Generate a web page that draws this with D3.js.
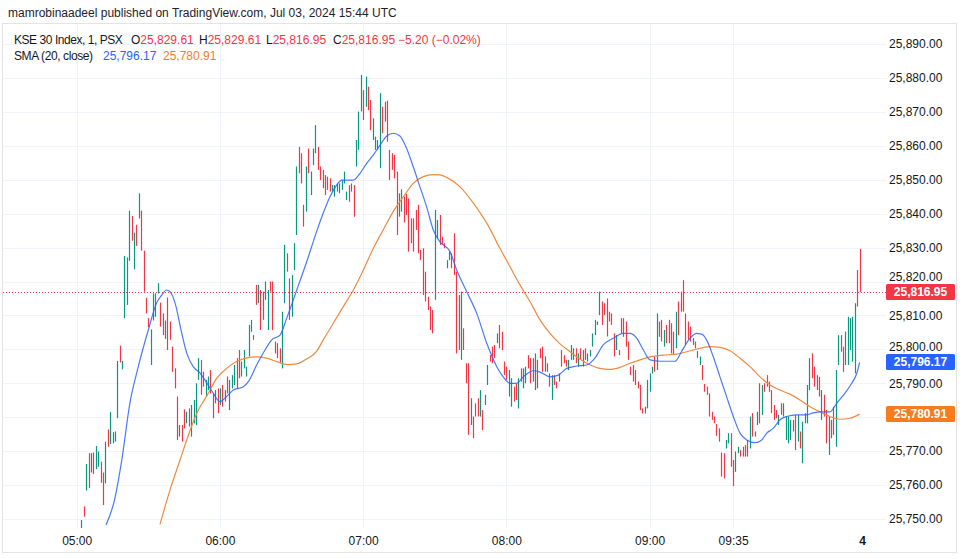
<!DOCTYPE html>
<html><head><meta charset="utf-8">
<script src="https://cdn.jsdelivr.net/npm/d3@7/dist/d3.min.js"></script>
<style>
html,body{margin:0;padding:0;background:#fff;}
svg{display:block;}
text{font-family:"Liberation Sans","Noto Sans",Arial,sans-serif;}
</style></head><body>
<div id="chart"></div>
<script>
// ---------- DATA ----------
const title = "mamrobinaadeel published on TradingView.com, Jul 03, 2024 15:44 UTC";
const symbolLabel = "KSE 30 Index, 1, PSX";
const smaLabel = "SMA (20, close)";
// 1-minute bars; bar index = minutes after 05:00 UTC, first visible bar at index 2
const firstBar = 2;
const highs = [25749.7,25753.7,25766.2,25769.4,25769.4,25769.6,25771.5,25769.9,25766.9,25763.7,
25772.8,25776.4,25781.5,25775.6,25775.8,25796.6,25801.1,25796.6,25827.5,25827.1,
25840.9,25839.3,25834.4,25836.7,25846.0,25840.9,25829.1,25815.2,25809.2,25805.9,
25816.5,25816.5,25819.5,25813.8,25810.6,25808.5,25815.3,25808.2,25800.8,25794.4,
25786.1,25777.7,25777.7,25782.3,25781.6,25782.6,25783.6,25785.1,25790.0,25797.4,
25796.9,25793.4,25791.0,25792.0,25793.9,25787.0,25788.0,25788.5,25788.5,25789.5,
25788.0,25792.0,25791.0,25792.4,25795.4,25797.4,25799.8,25796.4,25799.8,25794.9,
25807.2,25808.7,25804.2,25819.0,25819.0,25817.5,25817.0,25820.0,25817.5,25820.0,
25820.0,25802.3,25801.8,25800.3,25811.1,25830.8,25828.3,25820.9,25821.9,25831.3,
25853.9,25859.7,25857.8,25842.6,25853.9,25859.2,25852.4,25859.2,25866.1,25859.7,
25853.9,25852.9,25851.4,25850.9,25850.4,25848.4,25848.4,25848.9,25848.9,25849.9,
25852.4,25846.5,25848.4,25848.9,25848.4,25861.7,25870.1,25880.9,25876.4,25880.4,
25877.4,25873.5,25868.1,25862.7,25861.7,25875.5,25871.5,25873.0,25873.3,25858.8,
25857.8,25857.3,25852.4,25846.0,25847.2,25845.0,25845.8,25844.5,25838.6,25838.6,
25841.1,25842.6,25829.3,25829.8,25822.9,25815.5,25812.6,25811.6,25841.1,25838.1,
25839.6,25833.2,25831.3,25826.3,25828.8,25828.3,25834.2,25822.9,25816.0,25817.0,
25806.2,25795.9,25795.9,25785.6,25780.2,25784.1,25785.6,25788.0,25782.1,25786.6,
25795.4,25798.3,25800.8,25801.3,25804.7,25807.2,25805.2,25796.4,25794.9,25793.9,
25791.5,25789.0,25790.0,25791.5,25794.4,25794.4,25794.9,25798.3,25797.4,25797.4,
25798.8,25796.9,25800.3,25800.8,25797.9,25795.9,25792.9,25792.4,25792.4,25790.5,
25792.9,25799.8,25798.3,25796.9,25796.9,25801.3,25800.3,25800.3,25798.8,25800.3,
25799.8,25800.3,25798.8,25799.8,25804.7,25808.7,25808.2,25817.0,25814.1,25813.6,
25815.0,25811.1,25810.6,25804.7,25804.2,25799.8,25809.2,25809.2,25808.2,25802.3,
25794.9,25795.4,25793.9,25790.5,25789.5,25782.6,25783.1,25791.0,25792.9,25794.9,
25797.9,25810.6,25808.2,25808.7,25805.7,25807.2,25808.7,25807.7,25805.2,25811.1,
25814.1,25817.0,25820.4,25810.6,25808.2,25806.7,25803.3,25802.3,25799.5,25797.9,
25795.4,25789.8,25789.0,25787.0,25781.6,25780.2,25778.0,25776.7,25769.6,25769.4,
25773.3,25775.3,25775.3,25767.4,25769.9,25771.3,25770.3,25771.3,25771.8,25773.3,
25780.2,25781.2,25775.8,25781.6,25790.0,25789.5,25790.0,25792.4,25790.5,25788.0,
25783.6,25782.1,25780.7,25784.1,25784.1,25780.2,25780.2,25779.2,25779.2,25780.7,
25780.7,25775.8,25778.7,25781.2,25789.5,25797.4,25798.8,25794.9,25792.4,25791.9,
25788.0,25786.6,25782.1,25780.2,25779.2,25783.1,25793.9,25804.2,25804.2,25800.8,
25805.2,25809.6,25809.2,25809.6,25813.6,25823.4,25829.61];
const lows = [25747.0,25750.7,25758.4,25759.1,25763.7,25763.3,25764.7,25765.4,25760.7,25754.1,
25760.5,25771.3,25772.1,25772.3,25772.8,25779.7,25796.1,25794.1,25809.2,25813.1,
25826.1,25832.0,25823.6,25830.5,25838.6,25829.1,25817.0,25810.6,25806.5,25795.4,
25808.5,25809.6,25816.5,25806.7,25804.2,25803.1,25799.8,25802.8,25793.4,25788.5,
25773.3,25774.3,25772.8,25776.7,25778.2,25777.2,25774.3,25778.2,25777.7,25791.0,
25786.6,25789.0,25786.1,25788.0,25787.0,25779.7,25784.1,25781.2,25783.6,25783.1,
25784.6,25787.0,25782.1,25788.5,25789.5,25788.5,25791.5,25792.0,25794.4,25792.0,
25797.9,25805.2,25802.8,25813.1,25813.6,25805.7,25808.7,25814.6,25805.7,25817.0,
25805.7,25798.8,25797.4,25795.9,25794.4,25813.6,25822.9,25808.7,25809.6,25823.4,
25833.7,25851.9,25848.9,25836.2,25840.6,25851.9,25845.5,25854.3,25857.8,25852.9,
25849.9,25847.5,25845.5,25847.0,25846.5,25846.5,25845.0,25846.5,25846.0,25847.0,
25848.9,25844.0,25843.5,25846.5,25839.1,25853.9,25858.8,25870.1,25867.6,25871.5,
25870.5,25864.6,25861.7,25858.8,25858.8,25853.4,25863.7,25867.1,25861.2,25849.9,
25852.9,25850.4,25833.7,25839.1,25840.6,25837.4,25839.6,25828.8,25831.3,25828.8,
25835.2,25828.3,25826.3,25816.0,25814.1,25811.6,25805.7,25804.7,25814.6,25832.7,
25830.8,25830.8,25829.8,25823.9,25826.3,25823.9,25821.9,25798.8,25799.8,25796.9,
25799.8,25790.0,25774.8,25777.7,25773.8,25780.2,25780.2,25780.2,25776.2,25783.6,
25789.5,25796.4,25795.9,25797.4,25801.8,25800.3,25799.8,25792.4,25791.0,25786.1,
25783.1,25784.6,25785.1,25782.6,25790.5,25788.5,25790.0,25794.4,25790.0,25790.5,
25788.0,25788.5,25797.4,25793.4,25793.4,25793.4,25789.0,25785.1,25789.5,25788.5,
25790.5,25794.9,25795.9,25794.9,25793.9,25796.9,25796.9,25795.9,25794.9,25796.9,
25794.9,25796.9,25796.4,25797.9,25800.8,25804.2,25807.2,25810.1,25807.2,25810.1,
25803.8,25808.2,25807.2,25797.9,25799.8,25798.3,25804.7,25803.7,25800.8,25796.9,
25792.4,25790.5,25789.5,25788.5,25782.1,25781.1,25781.1,25782.6,25787.5,25792.9,
25793.4,25793.9,25803.7,25802.3,25800.8,25801.8,25801.8,25798.8,25798.3,25800.3,
25804.2,25811.1,25811.1,25801.3,25802.8,25802.3,25801.3,25800.3,25797.5,25795.4,
25791.0,25787.5,25786.6,25780.2,25779.2,25778.2,25774.5,25772.8,25762.5,25762.0,
25770.8,25772.3,25765.4,25759.7,25763.9,25769.4,25768.4,25768.4,25768.4,25768.4,
25770.8,25774.3,25774.3,25777.7,25778.2,25780.7,25787.5,25789.0,25787.5,25781.2,
25779.2,25779.7,25777.7,25780.7,25780.2,25773.3,25772.3,25773.3,25775.8,25770.3,
25772.8,25770.8,25766.4,25778.2,25778.2,25788.0,25791.5,25789.0,25788.0,25786.1,
25779.2,25780.2,25772.3,25768.9,25773.8,25774.8,25771.3,25795.4,25799.3,25793.4,
25795.4,25795.4,25799.8,25796.4,25792.9,25812.6,25816.95];
// bar colour: G = close above open, R = close below open
const barColours = "GRGRGRGGRR" + "GRGGGGRGGG" + "GRGRGRRRRG" + "GGGRRGRRRR" + "RGRRGRGGGG" +
  "RRGGRRGRGR" + "RRGGGRRGGG" + "GGRRGRRGGR" + "RRRRGGRRGG" + "GRRRGRGGGR" +
  "RRRRRGGGGG" + "GGRGRGGGRG" + "RRGGGGRRRR" + "RRRGGRRRRR" + "RRRRRRRRGG" +
  "RRRGGRRRRG" + "RRRGRRRGRG" + "GRRRGRRRRG" + "GRRGRGGRRR" + "GRRRGRRGRR" +
  "GRRRGGGRGR" + "RRGGGGGGRR" + "RRRRGRRRRR" + "RRRRRRGGGG" + "RGRRGRRRRG" +
  "RRRRRRGRGG" + "RRRRRRRRRR" + "GGRRGGRRRR" + "GRRGRGRRRR" + "RRGRGGGGRR" +
  "GRGGGGRRRR" + "GRRGRRGGRR" + "GGGGGRR";
// last bar values shown in legend
const lastOHLC = [25829.61, 25829.61, 25816.95, 25816.95];
const lastChange = [-5.20, -0.02];
// SMA (20, close) – main line (blue), read at bar positions
const smaBars = [12.3,16.0,18.9,22.3,25.8,30.0,33.5,35.6,37.7,39.1,41.2,44.0,46.1,48.8,51.7,54.5,57.2,60.0,62.8,65.6,69.8,71.9,75.4,78.9,81.7,85.2,88.0,92.2,96.4,100.5,103.3,106.1,108.9,111.0,115.9,118.7,121.5,124.3,127.1,129.9,132.6,135.4,138.2,141.0,143.8,146.6,149.4,152.2,156.4,159.2,163.4,167.6,171.8,176.0,178.7,181.5,184.3,187.1,191.3,194.1,198.3,201.8,205.3,209.5,213.7,217.1,220.6,224.8,229.0,231.8,234.6,237.4,240.2,244.4,250.7,253.5,257.0,259.7,261.8,263.9,266.7,269.5,272.3,275.1,277.9,280.7,284.2,287.0,289.1,291.8,294.6,297.4,301.6,305.8,308.6,312.1,315.6,318.4,321.9,324.7,326.8,328];
const smaValues = [25748.2,25756.1,25767.4,25784.2,25794.9,25805.7,25813.7,25816.0,25817.5,25817.0,25813.7,25804.8,25798.9,25794.9,25793.0,25790.1,25787.1,25784.6,25786.1,25788.0,25789.0,25790.5,25795.4,25799.8,25802.8,25804.2,25809.2,25817.5,25825.9,25834.7,25840.2,25845.0,25848.4,25849.9,25849.9,25851.9,25854.8,25857.3,25860.2,25862.9,25863.7,25862.9,25859.3,25853.8,25847.9,25842.0,25835.2,25831.7,25828.8,25823.4,25817.0,25810.6,25801.8,25794.9,25791.9,25790.0,25790.0,25791.9,25793.7,25793.3,25791.9,25792.4,25794.4,25795.1,25795.4,25797.4,25801.3,25803.3,25804.7,25804.7,25803.3,25799.8,25796.9,25796.5,25796.5,25799.5,25803.3,25804.7,25804.5,25802.8,25797.8,25791.9,25786.0,25780.2,25775.3,25773.3,25772.5,25773.3,25775.3,25776.7,25779.2,25780.2,25780.7,25780.7,25781.3,25781.6,25781.6,25784.1,25787.1,25790.0,25792.9,25796.17];
// smoothing line (orange)
const smoothBars = [34.9,39.1,43.3,46.1,50.3,54.5,58.7,62.8,67.0,71.2,75.4,79.6,83.8,88.0,92.2,96.4,100.5,103.3,107.5,111.7,115.9,120.1,124.3,128.4,132.6,136.8,141.0,145.2,149.4,152.2,155.0,160.6,166.2,171.8,177.3,181.5,185.7,189.9,194.1,198.3,202.5,206.7,210.9,215.1,219.2,223.4,227.6,231.8,236.0,240.2,245.7,251.4,258.3,265.3,269.5,273.7,277.9,282.1,286.3,290.5,294.6,298.8,303.0,307.2,311.4,315.6,319.8,324.0,328];
const smoothValues = [25748.4,25758.6,25767.4,25773.3,25781.2,25786.3,25791.5,25794.4,25796.4,25797.5,25797.8,25797.4,25796.4,25795.5,25795.7,25797.2,25799.4,25802.8,25807.7,25812.6,25817.5,25823.4,25829.8,25835.2,25840.6,25844.9,25848.9,25850.9,25851.5,25851.4,25850.7,25847.9,25843.1,25837.2,25829.8,25824.4,25819.0,25814.1,25808.7,25804.7,25801.6,25799.3,25797.1,25795.4,25794.4,25794.1,25794.7,25795.9,25796.9,25797.8,25798.3,25798.6,25799.8,25800.8,25800.6,25799.6,25797.4,25794.9,25791.9,25789.5,25788.0,25786.8,25785.1,25783.1,25781.6,25780.2,25779.4,25779.7,25780.91];
// axis ticks
const priceTicks = [25750,25760,25770,25780,25790,25800,25810,25820,25830,25840,25850,25860,25870,25880,25890];
const timeTickBars = [0,60,120,180,240,275,329];
const timeTickLabels = ["05:00","06:00","07:00","08:00","09:00","09:35","4"];

// ---------- STYLE ----------
const W = 963, H = 559;
const pane = {left: 3, top: 24, right: 886, bottom: 528};
const UP = "#089981", DOWN = "#f23645", BLUE = "#2962ff", ORANGE = "#f57c1f", ORANGE_LINE = "#f08a3e";
const TEXT = "#131722", GRID = "#f0f3fa";

const svg = d3.select("#chart").append("svg").attr("width", W).attr("height", H);
svg.append("rect").attr("width", W).attr("height", H).attr("fill", "#fff");
// panel frame
svg.append("rect").attr("x", 2.5).attr("y", 23.5).attr("width", 954).attr("height", 529)
  .attr("fill", "#fff").attr("stroke", "#e3e3e3");

const x = d3.scaleLinear().domain([0, 328]).range([76.7, 859.6]);
const y = d3.scaleLinear().domain([25750, 25890]).range([519, 44]);

svg.append("defs").append("clipPath").attr("id", "pane")
  .append("rect").attr("x", pane.left).attr("y", pane.top)
  .attr("width", pane.right - pane.left).attr("height", pane.bottom - pane.top);

// grid
const grid = svg.append("g");
grid.selectAll("line.h").data(priceTicks).join("line")
  .attr("x1", pane.left).attr("x2", pane.right)
  .attr("y1", d => Math.round(y(d)) + 0.5).attr("y2", d => Math.round(y(d)) + 0.5)
  .attr("stroke", GRID);
grid.selectAll("line.v").data(timeTickBars.slice(0, 6)).join("line")
  .attr("x1", d => Math.round(x(d)) + 0.5).attr("x2", d => Math.round(x(d)) + 0.5)
  .attr("y1", pane.top).attr("y2", pane.bottom)
  .attr("stroke", GRID);

const plot = svg.append("g").attr("clip-path", "url(#pane)");

// candles (thin, wick and body same width at this zoom)
const bars = highs.map((h, k) => ({i: firstBar + k, h, l: lows[k], up: barColours[k] === "G"}));
plot.selectAll("line.bar").data(bars).join("line")
  .attr("x1", d => Math.round(x(d.i)) + 0.5).attr("x2", d => Math.round(x(d.i)) + 0.5)
  .attr("y1", d => y(d.h)).attr("y2", d => Math.max(y(d.l), y(d.h) + 1))
  .attr("stroke", d => d.up ? UP : DOWN).attr("stroke-width", 1.2);

// SMA lines
const line = d3.line().x(d => x(d[0])).y(d => y(d[1])).curve(d3.curveMonotoneX);
plot.append("path").datum(smoothBars.map((b, k) => [b, smoothValues[k]]))
  .attr("d", line).attr("fill", "none").attr("stroke", ORANGE_LINE).attr("stroke-width", 1.2);
plot.append("path").datum(smaBars.map((b, k) => [b, smaValues[k]]))
  .attr("d", line).attr("fill", "none").attr("stroke", BLUE).attr("stroke-width", 1.2).attr("stroke-opacity", 0.85);

// last price dotted line
const lastClose = lastOHLC[3];
svg.append("line").attr("x1", pane.left).attr("x2", pane.right)
  .attr("y1", Math.round(y(lastClose)) + 0.5).attr("y2", Math.round(y(lastClose)) + 0.5)
  .attr("stroke", DOWN).attr("stroke-dasharray", "1,2");

// price axis
const fmt = d3.format(",.2f");
const yAxis = svg.append("g").attr("transform", `translate(${pane.right},0)`)
  .call(d3.axisRight(y).tickValues(priceTicks).tickSize(0).tickPadding(3).tickFormat(fmt));
yAxis.select(".domain").remove();
yAxis.selectAll("text").attr("fill", TEXT).attr("font-size", 12)
  .attr("font-family", "Liberation Sans, Arial, sans-serif");

// time axis
const xAxis = svg.append("g").attr("transform", `translate(0,${pane.bottom})`)
  .call(d3.axisBottom(x).tickValues(timeTickBars).tickSize(0).tickPadding(8)
    .tickFormat((d, k) => timeTickLabels[k]));
xAxis.select(".domain").remove();
xAxis.selectAll("text").attr("fill", TEXT).attr("font-size", 12)
  .attr("font-family", "Liberation Sans, Arial, sans-serif")
  .attr("font-weight", (d, k) => timeTickLabels[k] === "4" ? 700 : 400);

// price labels on the axis
const tagH = 16;
const tags = [
  {v: smoothValues[smoothValues.length - 1], fill: ORANGE},
  {v: smaValues[smaValues.length - 1], fill: BLUE},
  {v: lastClose, fill: DOWN}
];
// axis labels that sit under a tag: hide when covered, otherwise nudge clear of it
yAxis.selectAll(".tick").each(function(d) {
  const t = d3.select(this).select("text");
  const ty = y(d);
  let shift = 0, hide = false;
  tags.forEach(tag => {
    const cy = Math.round(y(tag.v));
    const dist = ty - cy;
    if (Math.abs(dist) < 7) hide = true;
    else if (Math.abs(dist) < tagH / 2 + 7.5) {
      const need = tagH / 2 + 7.5 - Math.abs(dist);
      shift += dist < 0 ? -need : need;
    }
  });
  if (hide) t.remove();
  else if (shift) t.attr("transform", `translate(0,${shift})`);
});
tags.forEach(tag => {
  const yy = Math.round(y(tag.v));
  const g = svg.append("g");
  g.append("rect").attr("x", pane.right).attr("y", yy - tagH / 2).attr("width", 69).attr("height", tagH)
    .attr("rx", 1.5).attr("fill", tag.fill);
  g.append("text").attr("x", pane.right + 34.5).attr("y", yy + 4.3).attr("text-anchor", "middle")
    .attr("fill", "#fff").attr("font-size", 12).attr("font-weight", 700).text(fmt(tag.v));
});

// header title
svg.append("text").attr("x", 8).attr("y", 17).attr("font-size", 12).attr("fill", "#1e222d").text(title);

// legend
const leg1 = svg.append("text").attr("y", 44).attr("font-size", 12).attr("fill", TEXT);
leg1.append("tspan").attr("x", 14).attr("letter-spacing", -0.45).text(symbolLabel);
const names = ["O", "H", "L", "C"];
const nameX = [131, 199, 266, 333];
lastOHLC.forEach((v, k) => {
  leg1.append("tspan").attr("x", nameX[k]).attr("fill", TEXT).attr("letter-spacing", 0).text(names[k]);
  leg1.append("tspan").attr("fill", DOWN).text(fmt(v));
});
leg1.append("tspan").attr("x", 398).attr("fill", DOWN)
  .text(`${lastChange[0] < 0 ? "\u2212" : "+"}${Math.abs(lastChange[0]).toFixed(2)} (${lastChange[1] < 0 ? "\u2212" : "+"}${Math.abs(lastChange[1]).toFixed(2)}%)`);

const leg2 = svg.append("text").attr("y", 60).attr("font-size", 12).attr("fill", TEXT);
leg2.append("tspan").attr("x", 14).attr("letter-spacing", -0.4).text(smaLabel);
leg2.append("tspan").attr("x", 103).attr("letter-spacing", 0).attr("fill", BLUE).text(fmt(smaValues[smaValues.length - 1]));
leg2.append("tspan").attr("x", 163).attr("fill", ORANGE).text(fmt(smoothValues[smoothValues.length - 1]));
</script>
</body></html>
